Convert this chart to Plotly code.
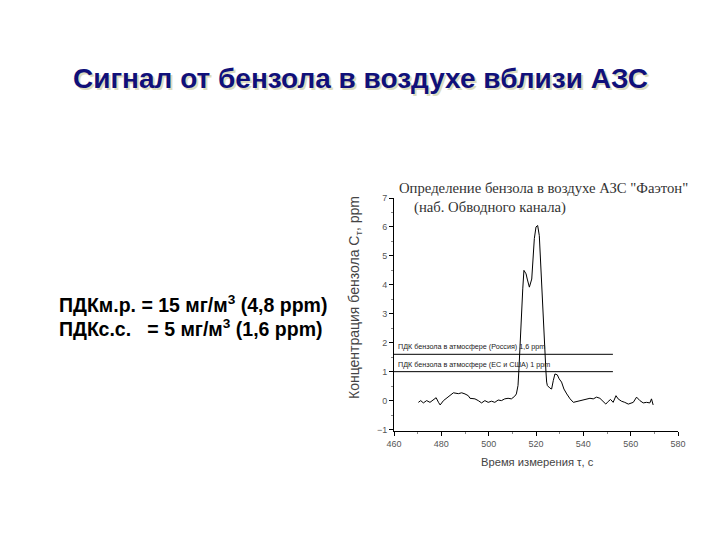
import plotly.graph_objects as go

# Signal data (time, s ; concentration, ppm)
time_s = [470.3, 471.3, 472.4, 473.8, 475.2, 476.6, 477.8, 478.8, 479.5, 480.9,
          482.3, 483.7, 485.1, 487.2, 488.6, 490.0, 491.4, 492.1, 494.2, 495.6,
          497.0, 498.4, 499.8, 501.2, 502.6, 504.0, 505.4, 506.8, 508.2, 509.6,
          511.0, 511.7, 512.4, 512.8, 513.5, 514.4, 514.9, 515.8, 516.3, 517.2,
          518.2, 518.6, 519.3, 520.0, 520.7, 521.4, 522.0, 522.6, 523.1, 524.2,
          524.5, 524.8, 525.9, 526.6, 527.3, 528.0, 529.0, 529.8, 530.8, 531.8,
          533.0, 534.4, 535.8, 537.2, 538.6, 540.0, 541.4, 542.8, 544.2, 545.6,
          547.0, 548.1, 549.5, 550.5, 551.5, 552.6, 553.8, 554.7, 556.1, 557.5,
          559.0, 561.1, 562.5, 563.9, 565.3, 566.7, 568.1, 568.8, 569.5]
conc_ppm = [-0.06, 0.0, -0.08, 0.0, -0.06, 0.03, 0.10, -0.06, -0.15, 0.0,
            0.10, 0.20, 0.27, 0.24, 0.27, 0.23, 0.17, 0.08, 0.06, 0.0,
            -0.08, 0.0, -0.06, -0.02, -0.06, 0.02, 0.0, 0.06, 0.08, 0.06,
            0.15, 0.23, 0.52, 1.1, 2.48, 3.86, 4.5, 4.38, 4.2, 3.92,
            4.2, 4.9, 5.6, 6.0, 6.05, 5.7, 4.67, 3.52, 2.48, 1.0,
            0.64, 0.52, 0.43, 0.40, 0.69, 0.92, 0.89, 0.75, 0.64, 0.40,
            0.23, 0.06, -0.06, -0.03, 0.0, 0.04, 0.06, 0.08, 0.06, 0.12,
            0.08, 0.0, -0.12, -0.03, 0.04, -0.06, 0.17, 0.06, -0.02, -0.06,
            -0.12, -0.06, 0.12, 0.0, -0.08, -0.06, -0.08, 0.06, -0.15]

# Threshold (ПДК) lines
pdk_levels = [1.6, 1.0]
pdk_labels = ["ПДК бензола в атмосфере (Россия) 1,6 ppm",
              "ПДК бензола в атмосфере (ЕС и США) 1 ppm"]
pdk_x = [460, 552.5]

x_ticks = [460, 480, 500, 520, 540, 560, 580]
y_ticks = [-1, 0, 1, 2, 3, 4, 5, 6, 7]

fig = go.Figure()
for lvl in pdk_levels:
    fig.add_trace(go.Scatter(x=pdk_x, y=[lvl, lvl], mode="lines",
                             line=dict(color="black", width=1), hoverinfo="skip"))
fig.add_trace(go.Scatter(x=time_s, y=conc_ppm, mode="lines",
                         line=dict(color="black", width=1)))

for lvl, lab in zip(pdk_levels, pdk_labels):
    fig.add_annotation(x=460.8, y=lvl, xref="x", yref="y", text=lab, showarrow=False,
                       xanchor="left", yanchor="bottom", yshift=1,
                       font=dict(family="Liberation Sans", size=7.2, color="#222"))

sans = "Liberation Sans"
# Main title with faint shadow
for dx, dy, col in [(2, -2, "#dcdcc0"), (0, 0, "#10107a")]:
    fig.add_annotation(x=-0.1197, y=1.511, xref="paper", yref="paper",
                       text="<b>Сигнал от бензола в воздухе вблизи АЗС</b>",
                       showarrow=False, xanchor="center", yanchor="middle",
                       xshift=dx, yshift=dy,
                       font=dict(family=sans, size=28, color=col))

fig.add_annotation(x=-1.1866, y=0.545, xref="paper", yref="paper",
                   text="<b>ПДКм.р. = 15 мг/м<sup>3</sup> (4,8 ppm)</b>",
                   showarrow=False, xanchor="left", yanchor="middle",
                   font=dict(family=sans, size=19.5, color="black"))
fig.add_annotation(x=-1.1866, y=0.442, xref="paper", yref="paper",
                   text="<b>ПДКс.с.\u00a0\u00a0\u00a0= 5 мг/м<sup>3</sup> (1,6 ppm)</b>",
                   showarrow=False, xanchor="left", yanchor="middle",
                   font=dict(family=sans, size=19.5, color="black"))

# Inner chart title
fig.add_annotation(x=0.0106, y=1.043, xref="paper", yref="paper",
                   text="Определение бензола в воздухе АЗС \"Фаэтон\"",
                   showarrow=False, xanchor="left", yanchor="middle",
                   font=dict(family="Liberation Serif", size=14.7, color="#333"))
fig.add_annotation(x=0.0634, y=0.961, xref="paper", yref="paper",
                   text="(наб. Обводного канала)",
                   showarrow=False, xanchor="left", yanchor="middle",
                   font=dict(family="Liberation Serif", size=14.7, color="#333"))

# Axis titles
fig.add_annotation(x=(355 - 394) / 284, y=(431 - 298) / 233, xref="paper", yref="paper",
                   text="Концентрация бензола C<sub>т</sub>, ppm", textangle=-90,
                   showarrow=False, xanchor="center", yanchor="middle",
                   font=dict(family=sans, size=14, color="#444"))
fig.add_annotation(x=(537 - 394) / 284, y=(431 - 462) / 233, xref="paper", yref="paper",
                   text="Время измерения τ, с",
                   showarrow=False, xanchor="center", yanchor="middle",
                   font=dict(family=sans, size=11.2, color="#444"))

fig.update_layout(
    width=720, height=540, showlegend=False,
    paper_bgcolor="white", plot_bgcolor="white",
    margin=dict(l=386, r=50, t=190, b=117),
    xaxis=dict(range=[460, 580], tickvals=x_ticks, showgrid=False, zeroline=False,
               showline=True, linecolor="black", linewidth=1,
               ticks="outside", ticklen=4, tickcolor="black",
               minor=dict(dtick=10, ticks="outside", ticklen=2, tickcolor="#888"),
               tickfont=dict(family=sans, size=9, color="#555")),
    yaxis=dict(range=[-1.05, 7.0], tickvals=y_ticks, showgrid=False, zeroline=False,
               showline=True, linecolor="black", linewidth=1,
               ticks="outside", ticklen=4, tickcolor="black",
               minor=dict(dtick=0.5, ticks="outside", ticklen=2, tickcolor="#888"),
               tickfont=dict(family=sans, size=9, color="#555")),
)

fig.write_html("out.html")
